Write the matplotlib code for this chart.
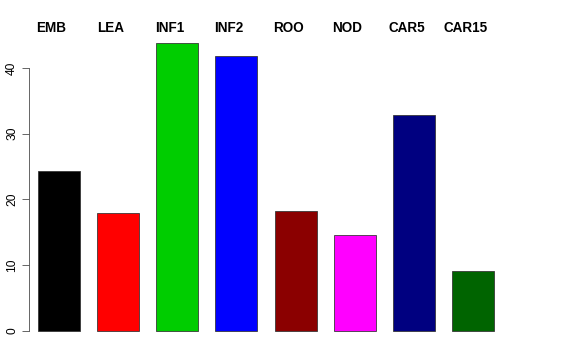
import matplotlib
matplotlib.use("Agg")
import matplotlib.pyplot as plt
import numpy as np

categories = ["EMB", "LEA", "INF1", "INF2", "ROO", "NOD", "CAR5", "CAR15"]
values = [24.3, 17.9, 43.8, 41.8, 18.2, 14.6, 32.8, 9.2]
colors = ["#000000", "#FF0000", "#00CD00", "#0000FF", "#8B0000", "#FF00FF", "#000080", "#006400"]
yticks = [0, 10, 20, 30, 40]

plt.rcParams['font.family'] = ['Liberation Sans', 'DejaVu Sans']

fig = plt.figure(figsize=(8, 5), dpi=72)
ax = fig.add_axes([29/576, (360-342.5)/360, 474/576, 311/360])
x = np.arange(len(categories))
ax.bar(x, values, width=0.71, color=colors, edgecolor="#333333", linewidth=0.8)
ax.set_xlim(-0.507, len(categories) - 1 + 0.507)
ax.set_ylim(-1.75, 45.55)

for s in ["top", "right", "bottom"]:
    ax.spines[s].set_visible(False)
ax.spines["left"].set_bounds(0, 40)
ax.spines["left"].set_color("#444444")
ax.set_xticks([])
ax.set_yticks(yticks)
ax.set_yticklabels([str(t) for t in yticks], rotation=90, va="center", fontsize=12)
ax.tick_params(axis="y", length=7, width=0.8, color="#444444", pad=4)

for i, c in enumerate(categories):
    ax.text(i - 0.125, 46.1, c, ha="center", va="center", fontsize=13.5,
            fontweight="bold", clip_on=False)

fig.savefig("out.png", dpi=72)
